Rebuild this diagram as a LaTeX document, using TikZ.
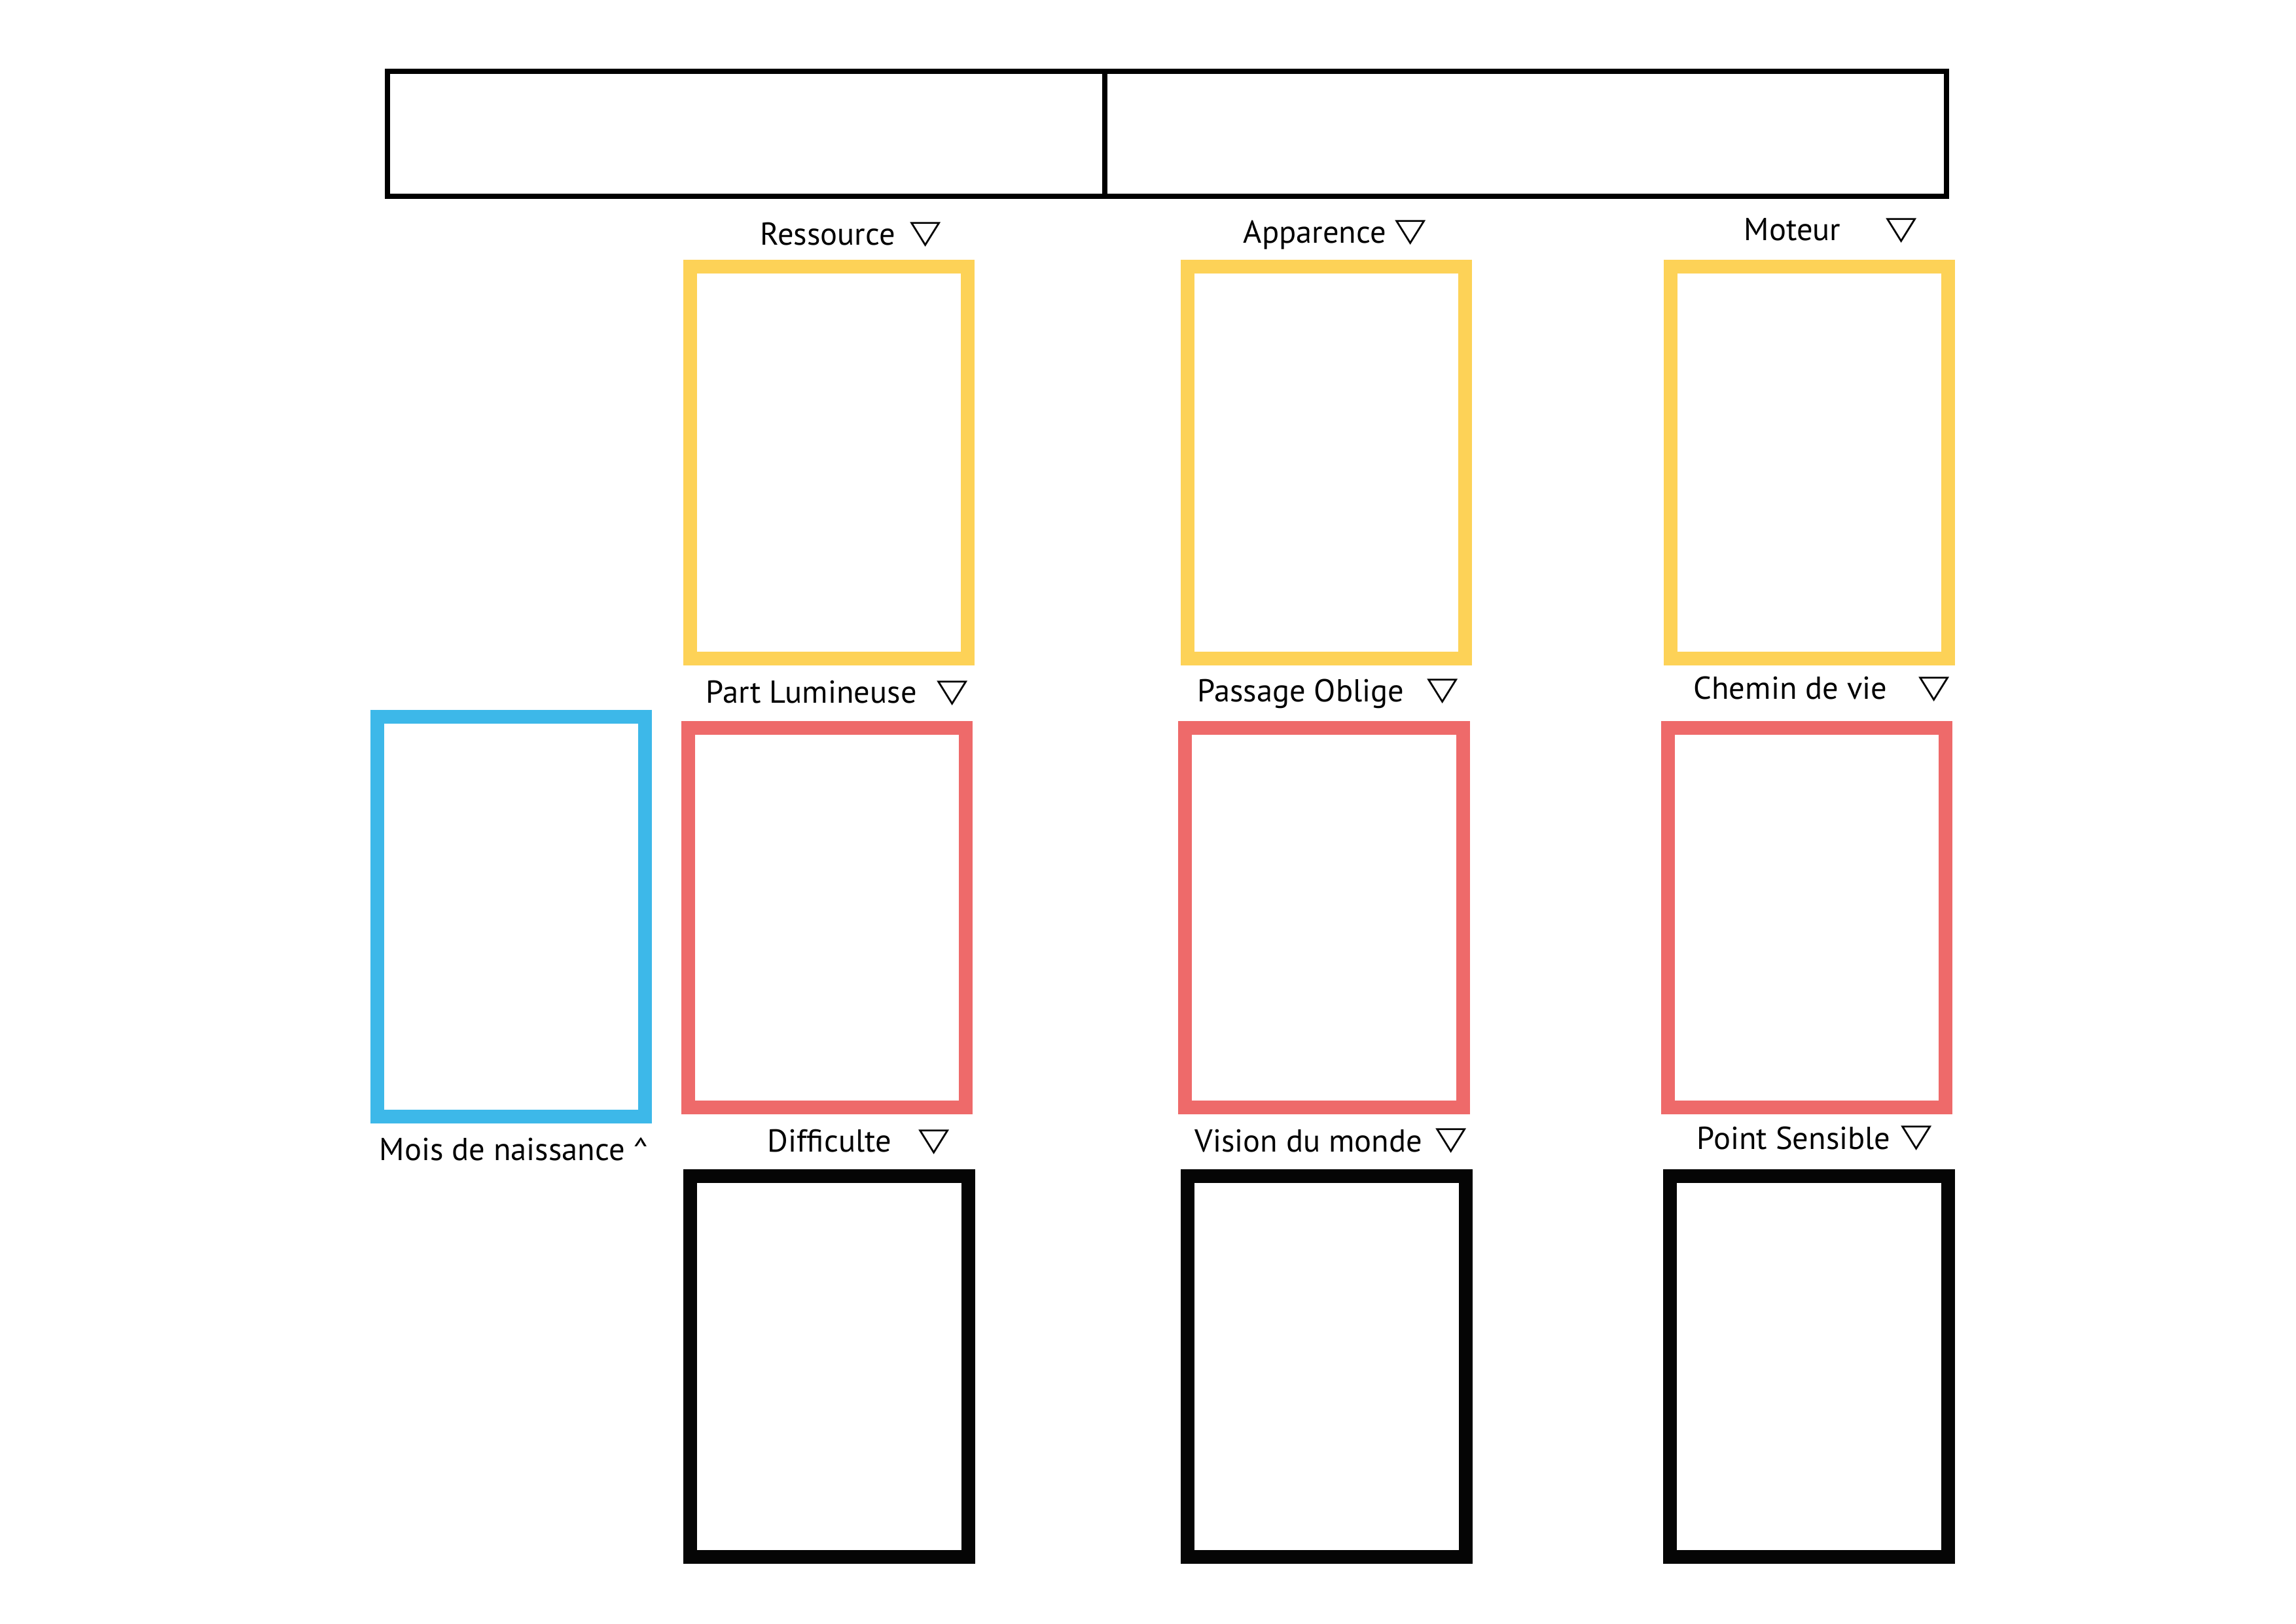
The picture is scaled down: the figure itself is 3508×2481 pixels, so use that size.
\documentclass[tikz,border=0pt]{standalone}
\usepackage{fontspec}
\usepackage{graphicx}
\usetikzlibrary{positioning}
\setmainfont{PT Sans}
\newfontfamily\trifont{DejaVu Sans}
\definecolor{cardyellow}{RGB}{253, 210, 87}
\definecolor{cardred}{RGB}{238, 106, 106}
\definecolor{cardblue}{RGB}{61, 184, 233}
\definecolor{cardblack}{RGB}{5, 5, 5}
\newcommand{\downmark}{\scalebox{1.25}[1]{▽}}

\begin{document}
\begin{tikzpicture}[
        x=0.01cm, y=-0.01cm,
        slot/.style={
            rectangle,
            draw,
            line width=0.21cm,
            minimum width=4.24cm,
            inner sep=0pt
        },
        headcell/.style={
            rectangle,
            draw=black,
            line width=0.08cm,
            minimum height=1.91cm,
            inner sep=0pt
        },
        caption/.style={
            anchor=base west,
            inner sep=0pt,
            font=\fontsize{13.8}{16}\selectfont
        },
        trimark/.style={
            inner sep=0pt,
            font=\trifont\fontsize{14}{16}\selectfont
        }
    ]
        \useasboundingbox (0,0) rectangle (3508,2481);

        % header
        \node[headcell, minimum width=10.96cm] (leftcell) at (1140, 204.5) {};
        \node[headcell, minimum width=12.86cm] (rightcell) at (2331, 204.5) {};

        % first row
        \node[slot, draw=cardyellow, minimum height=5.99cm] (ressource) at (1266.5, 707) {};
        \node[slot, draw=cardyellow, minimum height=5.99cm] (apparence) at (2026.5, 707) {};
        \node[slot, draw=cardyellow, minimum height=5.99cm] (moteur) at (2764.5, 707) {};

        % second row
        \node[slot, draw=cardblue, minimum width=4.09cm, minimum height=6.11cm] (mois) at (781, 1401) {};
        \node[slot, draw=cardred, minimum height=5.80cm] (lumineuse) at (1263.5, 1402.5) {};
        \node[slot, draw=cardred, minimum height=5.80cm] (passage) at (2023, 1402.5) {};
        \node[slot, draw=cardred, minimum height=5.80cm] (chemin) at (2760.5, 1402.5) {};

        % third row
        \node[slot, draw=cardblack, minimum height=5.82cm] (difficulte) at (1267, 2088.5) {};
        \node[slot, draw=cardblack, minimum height=5.82cm] (vision) at (2027, 2088.5) {};
        \node[slot, draw=cardblack, minimum height=5.82cm] (sensible) at (2764, 2088.5) {};

        % labels
        \node[caption] (ressourcetext) at (1161, 374) {Ressource};
        \node[trimark] (ressourcemark) at (1414, 359) {\downmark};
        \node[caption] (apparencetext) at (1899, 371) {Apparence};
        \node[trimark] (apparencemark) at (2155, 356) {\downmark};
        \node[caption] (moteurtext) at (2664, 367) {Moteur};
        \node[trimark] (moteurmark) at (2905, 353) {\downmark};

        \node[caption] (lumineusetext) at (1078, 1074) {Part Lumineuse};
        \node[trimark] (lumineusemark) at (1455, 1060) {\downmark};
        \node[caption] (passagetext) at (1829, 1072) {Passage Oblige};
        \node[trimark] (passagemark) at (2204, 1057) {\downmark};
        \node[caption] (chemintext) at (2587, 1068) {Chemin de vie};
        \node[trimark] (cheminmark) at (2955, 1054) {\downmark};

        \node[caption] (moistext) at (579, 1773) {Mois de naissance \^{}};
        \node[caption] (difficultetext) at (1172, 1760) {Difficulte};
        \node[trimark] (difficultemark) at (1427, 1746) {\downmark};
        \node[caption] (visiontext) at (1825, 1760) {Vision du monde};
        \node[trimark] (visionmark) at (2217, 1744) {\downmark};
        \node[caption] (sensibletext) at (2592, 1756) {Point Sensible};
        \node[trimark] (sensiblemark) at (2928, 1740) {\downmark};
    \end{tikzpicture}
\end{document}
